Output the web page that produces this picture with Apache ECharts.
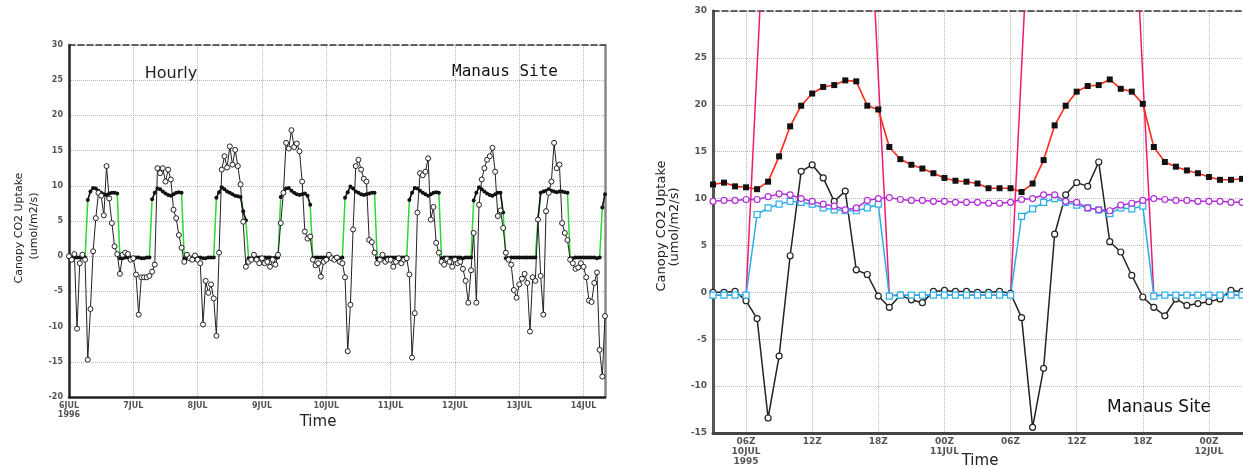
<!DOCTYPE html>
<html><head><meta charset="utf-8">
<script src="https://cdn.jsdelivr.net/npm/echarts@6/dist/echarts.min.js"></script>
<style>html,body{margin:0;padding:0;background:#fff}#c{width:1243px;height:468px}</style>
</head><body><div id="c"></div>
<script>
// ---------- LEFT PANEL (hourly, hour index from 6JUL 00Z) ----------
const leftDayLabels = ["6JUL\n1996","7JUL","8JUL","9JUL","10JUL","11JUL","12JUL","13JUL","14JUL"];
const obsByDay = [
 [0,-0.5,0.3,-10.3,-1.0,0.2,-0.5,-14.7,-7.5,0.7,5.4,9.0,8.6,5.8,12.8,8.2,4.7,1.4,0.3,-2.5,0.2,0.5,0.3,-0.5],
 [-0.3,-2.6,-8.3,-3.0,-3.0,-3.0,-2.8,-2.2,-1.2,12.5,11.8,12.5,10.6,12.3,10.9,6.6,5.4,3.0,1.2,-0.8,0.2,-0.3,-0.5,0.1],
 [-0.5,-1.0,-9.7,-3.5,-5.2,-4.0,-6.0,-11.3,0.5,12.3,14.2,12.6,15.6,13.0,15.1,12.8,10.2,4.9,-1.5,-0.8,-0.5,0.2,-0.5,-1.0],
 [-0.3,-1.0,-0.8,-1.5,-0.5,-1.2,0.2,4.7,9.0,16.1,15.3,17.9,15.5,16.0,14.9,10.6,3.5,2.5,2.8,-0.5,-1.3,-1.0,-2.9,-0.8],
 [-0.5,0.2,-0.3,-0.5,-0.2,-0.8,-1.0,-3.0,-13.5,-6.9,3.8,12.8,13.7,12.3,11.0,10.6,2.3,2.0,0.5,-1.0,-0.5,0.2,-0.8,-0.5],
 [-0.5,-1.5,-0.8,-0.3,-1.0,-0.5,-0.3,-2.6,-14.4,-8.1,6.2,11.8,11.5,12.0,13.9,5.2,7.0,1.9,0.5,-0.8,-1.2,-0.4,-0.8,-1.5],
 [-0.5,-1.0,-0.8,-1.8,-3.5,-6.6,-2.0,3.3,-6.6,7.3,10.9,12.5,13.7,14.2,15.4,12.0,5.7,6.5,4.0,0.5,-0.5,-1.2,-4.8,-5.9],
 [-4.0,-3.2,-2.5,-3.8,-10.7,-3.0,-3.5,5.2,-2.8,-8.3,6.4,9.0,10.6,16.1,12.5,13.0,4.7,3.3,2.3,-0.5,-1.0,-1.8,-1.6,-1.0],
 [-1.5,-3.0,-6.3,-6.5,-3.8,-2.3,-13.3,-17.1,-8.5]
];
const modelByDay = [
 [-0.2,-0.2,-0.2,-0.2,-0.2,-0.2,-0.2,8.0,9.2,9.7,9.6,9.3,9.0,8.8,8.7,8.9,9.0,9.0,8.9,-0.3,-0.3,-0.2,-0.2,-0.2],
 [-0.2,-0.2,-0.2,-0.3,-0.3,-0.2,-0.2,8.1,9.0,9.6,9.5,9.2,8.9,8.7,8.6,8.8,9.0,9.1,9.0,-0.3,-0.3,-0.2,-0.2,-0.2],
 [-0.2,-0.2,-0.3,-0.3,-0.2,-0.2,-0.2,8.3,9.1,9.8,9.5,9.2,9.0,8.8,8.6,8.5,8.4,6.4,5.1,-0.3,-0.3,-0.2,-0.2,-0.2],
 [-0.2,-0.2,-0.2,-0.2,-0.3,-0.2,-0.2,8.4,9.0,9.6,9.7,9.3,9.0,8.8,8.7,8.8,8.9,8.6,7.3,-0.3,-0.2,-0.2,-0.2,-0.2],
 [-0.2,-0.2,-0.2,-0.2,-0.2,-0.3,-0.2,8.3,9.1,9.9,9.6,9.2,9.0,8.8,8.7,8.8,8.9,9.0,9.0,-0.3,-0.3,-0.2,-0.2,-0.2],
 [-0.2,-0.2,-0.2,-0.2,-0.2,-0.2,-0.2,8.0,9.0,9.7,9.6,9.3,9.0,8.8,8.6,8.8,9.0,9.1,9.0,-0.3,-0.2,-0.2,-0.2,-0.2],
 [-0.2,-0.2,-0.2,-0.3,-0.2,-0.2,-0.2,7.9,9.0,9.8,9.5,9.2,8.9,8.7,8.6,8.8,9.0,9.0,6.2,-0.3,-0.3,-0.2,-0.2,-0.2],
 [-0.2,-0.2,-0.2,-0.2,-0.2,-0.2,-0.2,5.3,9.0,9.2,9.3,9.5,9.3,9.2,9.1,9.2,9.2,9.1,9.0,-0.3,-0.3,-0.2,-0.2,-0.2],
 [-0.2,-0.2,-0.2,-0.2,-0.2,-0.3,-0.2,6.9,8.8]
];

// ---------- RIGHT PANEL (hourly from 03Z 10JUL; x = hours since 00Z 10JUL) ----------
const rightStartHour = 3;
const rightTickHours = [6,12,18,24,30,36,42,48];
const rightTickLabels = ["06Z\n10JUL\n1995","12Z","18Z","00Z\n11JUL","06Z","12Z","18Z","00Z\n12JUL"];
const redModel = [11.5,11.7,11.3,11.2,11.0,11.8,14.5,17.7,19.9,21.2,21.9,22.1,22.6,22.5,19.9,19.5,15.5,14.2,13.6,13.2,12.7,12.2,11.9,11.8,11.6,11.1,11.1,11.1,10.7,11.6,14.1,17.8,19.9,21.4,22.0,22.1,22.7,21.7,21.4,20.1,15.5,13.9,13.4,13.0,12.7,12.3,12.0,12.0,12.1];
const purpleModel = [9.7,9.8,9.8,9.9,9.9,10.2,10.5,10.4,10.0,9.7,9.4,9.2,8.8,9.0,9.8,10.0,10.1,9.9,9.8,9.8,9.7,9.7,9.6,9.6,9.6,9.5,9.5,9.6,9.9,10.0,10.4,10.4,9.7,9.6,9.0,8.8,8.7,9.3,9.5,9.8,10.0,9.9,9.8,9.8,9.7,9.7,9.7,9.6,9.6];
const blueModel = [-0.3,-0.3,-0.3,-0.3,8.3,9.0,9.4,9.7,9.6,9.4,9.0,8.8,8.7,8.7,9.0,9.4,-0.4,-0.3,-0.3,-0.3,-0.3,-0.3,-0.3,-0.3,-0.3,-0.3,-0.3,-0.3,8.1,8.9,9.6,10.0,9.6,9.3,9.0,8.8,8.4,9.0,8.9,9.2,-0.4,-0.3,-0.3,-0.3,-0.3,-0.3,-0.3,-0.3,-0.3];
const observed = [0,0,0.1,-0.9,-2.8,-13.4,-6.8,3.9,12.9,13.6,12.2,9.7,10.8,2.4,1.9,-0.4,-1.6,-0.3,-0.8,-1.1,0.1,0.2,0.1,0.1,0,0,0.1,-0.1,-2.7,-14.4,-8.1,6.2,10.4,11.7,11.3,13.9,5.4,4.3,1.8,-0.5,-1.6,-2.5,-0.7,-1.4,-1.2,-1.0,-0.7,0.2,0.1];
const pinkSeries = [-0.3,-0.3,-0.3,-0.3,24,48,80,80,80,80,80,80,80,80,47,23,-0.3,-0.3,-0.3,-0.3,-0.3,-0.3,-0.3,-0.3,-0.3,-0.3,-0.3,-0.3,24,48,80,80,80,80,80,80,80,80,47,23,-0.3,-0.3,-0.3,-0.3,-0.3,-0.3,-0.3,-0.3,-0.3];

// ---------- build ----------
const obsFlat = [].concat(...obsByDay);
const modelFlat = [].concat(...modelByDay);
const obsData = obsFlat.map((v,i)=>[i,v]);
const greenData = modelFlat.map((v,i)=>[i,v]);
const modelDayData = modelFlat.map((v,i)=>[i, v>1 ? v : null]);
const modelNightData = modelFlat.map((v,i)=>[i, v<=1 ? v : null]);
const rx = arr => arr.map((v,i)=>[rightStartHour+i, v]);

const gridLine = {show:true, lineStyle:{type:'dotted', color:'#b8b8b8', width:1}};
const axisTxt = {fontFamily:'DejaVu Sans', fontWeight:'bold', color:'#555'};
const topLine = {show:true, onZero:false, lineStyle:{color:'#333', width:1.5, type:'dashed'}};

const chart = echarts.init(document.getElementById('c'), null, {renderer:'canvas'});
chart.setOption({
  animation:false,
  backgroundColor:'#fff',
  grid:[
    {left:69, top:45, width:536, height:352},
    {left:713, top:11, width:529, height:422}
  ],
  xAxis:[
    {type:'value', gridIndex:0, min:0, max:200, interval:24,
     axisLine:{show:true, onZero:false, lineStyle:{color:'#222', width:2.5}},
     axisTick:{show:false},
     axisLabel:Object.assign({fontSize:8, lineHeight:9, margin:4,
        formatter:v=> (v%24===0 && leftDayLabels[v/24]) ? leftDayLabels[v/24] : ''}, axisTxt),
     splitLine:gridLine},
    {type:'value', gridIndex:1, min:3, max:51,
     axisLine:{show:true, onZero:false, lineStyle:{color:'#444', width:3}},
     axisTick:{show:false, customValues:rightTickHours},
     axisLabel:Object.assign({fontSize:9, lineHeight:10, margin:4, customValues:rightTickHours,
        formatter:v=>{const k=rightTickHours.indexOf(v); return k>=0?rightTickLabels[k]:'';}}, axisTxt),
     splitLine:gridLine},
    {type:'value', gridIndex:0, position:'top', min:0, max:200,
     axisLine:topLine, axisTick:{show:false}, axisLabel:{show:false}, splitLine:{show:false}},
    {type:'value', gridIndex:1, position:'top', min:3, max:51,
     axisLine:topLine, axisTick:{show:false}, axisLabel:{show:false}, splitLine:{show:false}}
  ],
  yAxis:[
    {type:'value', gridIndex:0, min:-20, max:30, interval:5,
     axisLine:{show:true, onZero:false, lineStyle:{color:'#222', width:2.5}},
     axisTick:{show:false},
     axisLabel:Object.assign({fontSize:8, margin:6}, axisTxt),
     splitLine:gridLine},
    {type:'value', gridIndex:0, position:'right', min:-20, max:30, interval:5,
     axisLine:{show:true, onZero:false, lineStyle:{color:'#888', width:2.5}},
     axisTick:{show:false}, axisLabel:{show:false}, splitLine:{show:false}},
    {type:'value', gridIndex:1, min:-15, max:30, interval:5,
     axisLine:{show:true, onZero:false, lineStyle:{color:'#555', width:3}},
     axisTick:{show:false},
     axisLabel:Object.assign({fontSize:9, margin:6}, axisTxt),
     splitLine:gridLine}
  ],
  series:[
    // left panel
    {type:'line', xAxisIndex:0, yAxisIndex:0, data:greenData, showSymbol:false, symbol:'none',
     lineStyle:{color:'#2fd62f', width:1.5}},
    {type:'line', xAxisIndex:0, yAxisIndex:0, data:modelDayData, symbol:'circle', symbolSize:4,
     itemStyle:{color:'#111'}, lineStyle:{color:'#111', width:1.5}, connectNulls:false},
    {type:'line', xAxisIndex:0, yAxisIndex:0, data:modelNightData, symbol:'circle', symbolSize:4,
     itemStyle:{color:'#111'}, lineStyle:{color:'#111', width:1.5}, connectNulls:false},
    {type:'line', xAxisIndex:0, yAxisIndex:0, data:obsData, symbol:'circle', symbolSize:5,
     itemStyle:{color:'#fff', borderColor:'#222', borderWidth:1}, lineStyle:{color:'#222', width:1}},
    // right panel
    {type:'line', xAxisIndex:1, yAxisIndex:2, data:rx(pinkSeries), symbol:'none',
     lineStyle:{color:'#ee1b76', width:1.5}},
    {type:'line', xAxisIndex:1, yAxisIndex:2, data:rx(observed), symbol:'circle', symbolSize:6,
     itemStyle:{color:'#fff', borderColor:'#222', borderWidth:1.2}, lineStyle:{color:'#222', width:1.5}},
    {type:'line', xAxisIndex:1, yAxisIndex:2, data:rx(blueModel), symbol:'rect', symbolSize:6,
     itemStyle:{color:'#fff', borderColor:'#2aaee8', borderWidth:1.2}, lineStyle:{color:'#2aaee8', width:1.5}},
    {type:'line', xAxisIndex:1, yAxisIndex:2, data:rx(purpleModel), symbol:'circle', symbolSize:6,
     itemStyle:{color:'#fff', borderColor:'#b22fd8', borderWidth:1.2}, lineStyle:{color:'#b22fd8', width:1.5}},
    {type:'line', xAxisIndex:1, yAxisIndex:2, data:rx(redModel), symbol:'rect', symbolSize:6,
     itemStyle:{color:'#111'}, lineStyle:{color:'#ff2a1a', width:1.6}}
  ],
  graphic:[
    {type:'text', x:171, y:74, style:{text:'Hourly', font:'16px "DejaVu Sans"', fill:'#222', textAlign:'center', textVerticalAlign:'middle'}},
    {type:'text', x:505, y:72, style:{text:'Manaus Site', font:'16px "DejaVu Sans Mono"', fill:'#111', textAlign:'center', textVerticalAlign:'middle'}},
    {type:'text', x:1159, y:408, style:{text:'Manaus Site', font:'17px "DejaVu Sans"', fill:'#111', textAlign:'center', textVerticalAlign:'middle'}},
    {type:'text', x:19, y:228, rotation:Math.PI/2, style:{text:'Canopy CO2 Uptake', font:'11px "DejaVu Sans"', fill:'#222', textAlign:'center', textVerticalAlign:'middle'}},
    {type:'text', x:34, y:226, rotation:Math.PI/2, style:{text:'(umol/m2/s)', font:'11px "DejaVu Sans"', fill:'#222', textAlign:'center', textVerticalAlign:'middle'}},
    {type:'text', x:662, y:226, rotation:Math.PI/2, style:{text:'Canopy CO2 Uptake', font:'13px "DejaVu Sans"', fill:'#222', textAlign:'center', textVerticalAlign:'middle'}},
    {type:'text', x:675, y:227, rotation:Math.PI/2, style:{text:'(umol/m2/s)', font:'13px "DejaVu Sans"', fill:'#222', textAlign:'center', textVerticalAlign:'middle'}},
    {type:'text', x:318, y:422, style:{text:'Time', font:'15px "DejaVu Sans"', fill:'#222', textAlign:'center', textVerticalAlign:'middle'}},
    {type:'text', x:980, y:461, style:{text:'Time', font:'15px "DejaVu Sans"', fill:'#222', textAlign:'center', textVerticalAlign:'middle'}}
  ]
});
</script></body></html>
